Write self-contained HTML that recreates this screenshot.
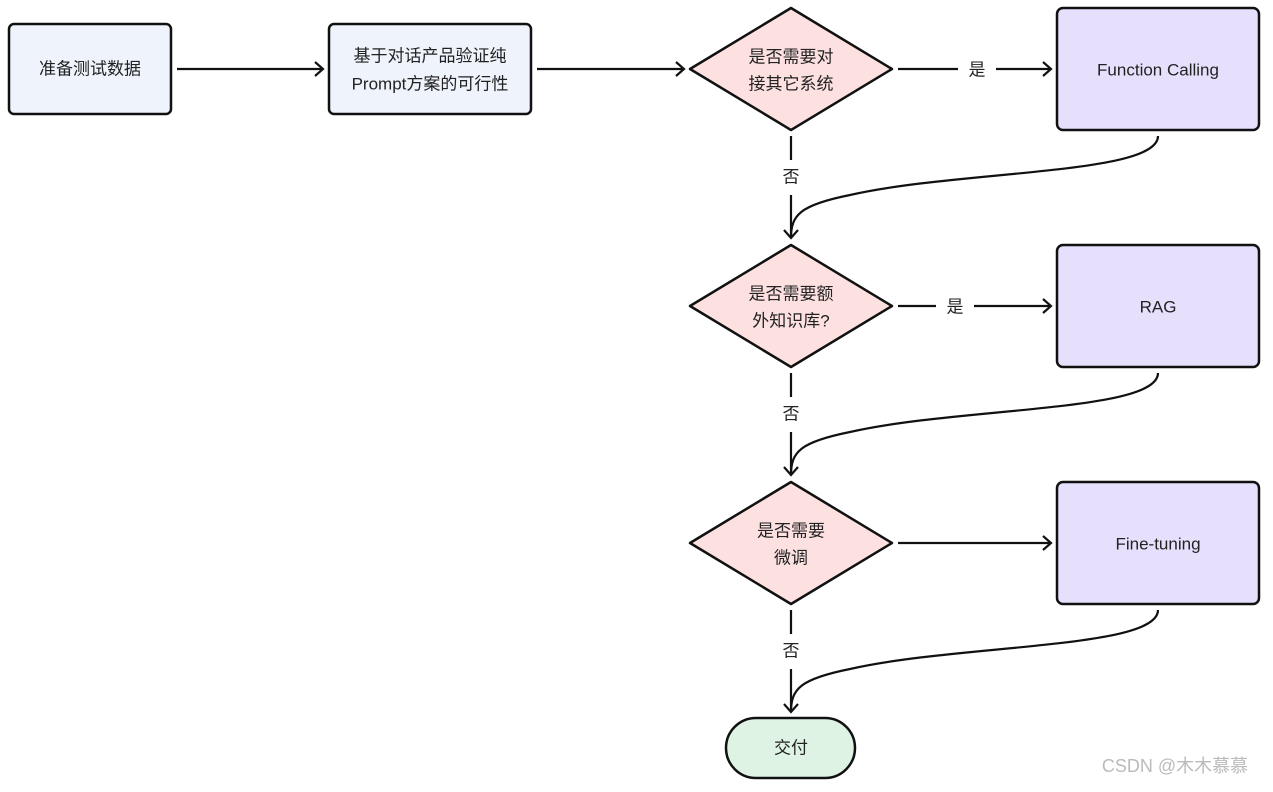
<!DOCTYPE html>
<html><head><meta charset="utf-8"><style>
body{margin:0;background:#fff;}
svg text{font-family:"Liberation Sans","Noto Sans CJK SC",sans-serif;font-size:17px;fill:#222;text-anchor:middle;dominant-baseline:central;}
</style></head><body>
<svg width="1273" height="787" viewBox="0 0 1273 787" xmlns="http://www.w3.org/2000/svg">
<defs><marker id="a" markerWidth="12" markerHeight="16" refX="10" refY="8" orient="auto" markerUnits="userSpaceOnUse"><path d="M2 1 L10 8 L2 15" fill="none" stroke="#111" stroke-width="2.2"/></marker></defs>
<g stroke="#111" stroke-width="2.5">
<rect x="9" y="24" width="162" height="90" rx="5" fill="#eef3fc"/>
<rect x="329" y="24" width="202" height="90" rx="5" fill="#eef3fc"/>
<polygon points="791,8 892,69 791,130 690,69" fill="#fde1e1" stroke-linejoin="round"/>
<polygon points="791,245 892,306 791,367 690,306" fill="#fde1e1" stroke-linejoin="round"/>
<polygon points="791,482 892,543 791,604 690,543" fill="#fde1e1" stroke-linejoin="round"/>
<rect x="1057" y="8" width="202" height="122" rx="6" fill="#e7e0fd"/>
<rect x="1057" y="245" width="202" height="122" rx="6" fill="#e7e0fd"/>
<rect x="1057" y="482" width="202" height="122" rx="6" fill="#e7e0fd"/>
<rect x="726" y="718" width="129" height="60" rx="30" fill="#dff3e4"/>
</g>
<g stroke="#111" stroke-width="2.2" fill="none">
<path d="M177 69 H323" marker-end="url(#a)"/>
<path d="M537 69 H684" marker-end="url(#a)"/>
<path d="M898 69 H958 M996 69 H1051" marker-end="url(#a)"/>
<path d="M898 306 H936 M974 306 H1051" marker-end="url(#a)"/>
<path d="M898 543 H1051" marker-end="url(#a)"/>
<path d="M791 136 V160 M791 195 V238" marker-end="url(#a)"/>
<path d="M791 373 V397 M791 432 V475" marker-end="url(#a)"/>
<path d="M791 610 V634 M791 669 V712" marker-end="url(#a)"/>
<path d="M1158 136 C1158 175 960 170 850 195 C800 205 791 215 791 238"/>
<path d="M1158 373 C1158 412 960 407 850 432 C800 442 791 452 791 475"/>
<path d="M1158 610 C1158 649 960 644 850 669 C800 679 791 689 791 712"/>
</g>
<text x="90" y="69">准备测试数据</text>
<text x="430" y="56">基于对话产品验证纯</text>
<text x="430" y="84">Prompt方案的可行性</text>
<text x="791" y="57">是否需要对</text>
<text x="791" y="84">接其它系统</text>
<text x="791" y="294">是否需要额</text>
<text x="791" y="321">外知识库?</text>
<text x="791" y="531">是否需要</text>
<text x="791" y="558">微调</text>
<text x="1158" y="70">Function Calling</text>
<text x="1158" y="307">RAG</text>
<text x="1158" y="544">Fine-tuning</text>
<text x="791" y="748">交付</text>
<text x="977" y="70">是</text>
<text x="955" y="307">是</text>
<text x="791" y="177">否</text>
<text x="791" y="414">否</text>
<text x="791" y="651">否</text>
<text x="1175" y="766" style="fill:#bbb;font-size:18px">CSDN @木木慕慕</text>
</svg>
</body></html>
